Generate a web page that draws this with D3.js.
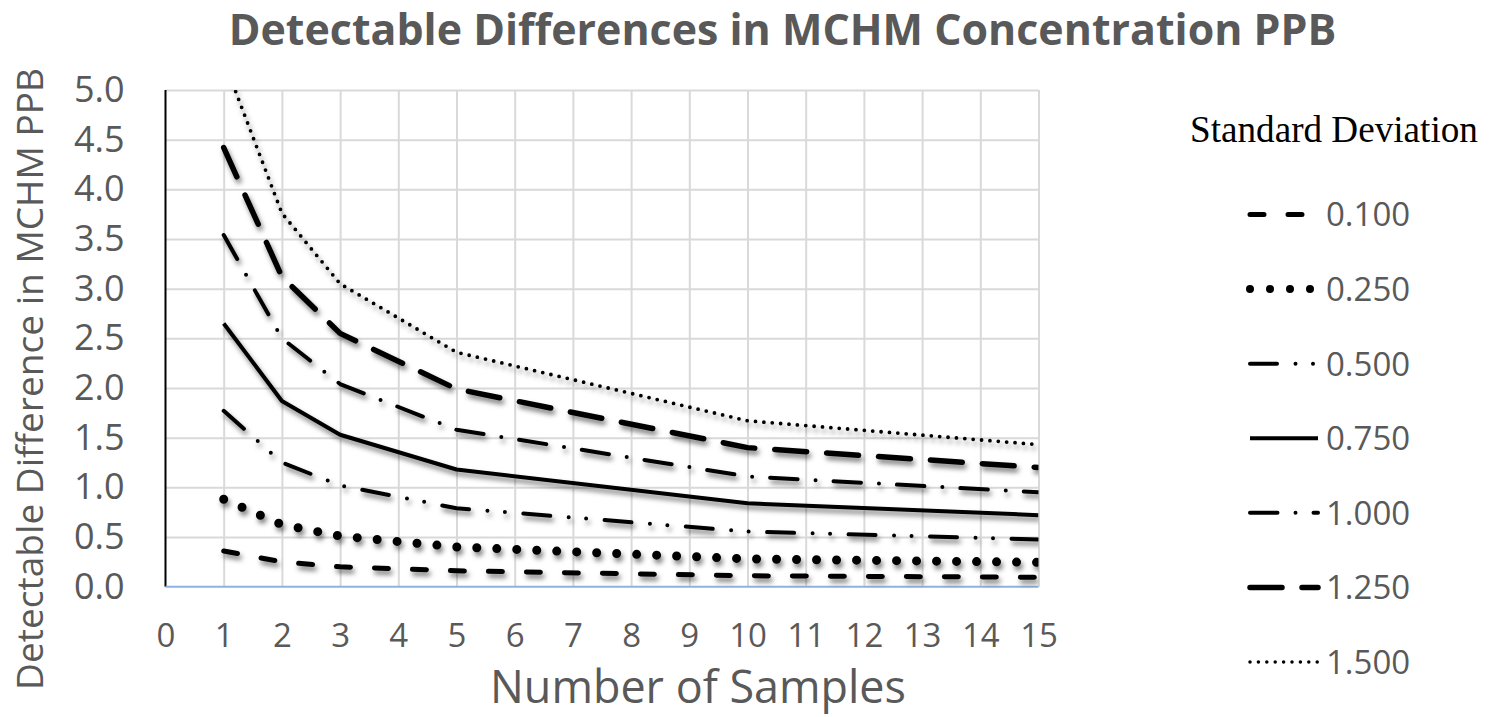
<!DOCTYPE html>
<html><head><meta charset="utf-8">
<script src="https://cdn.jsdelivr.net/npm/d3@7"></script>
<style>body{margin:0;background:#fff}svg{display:block}</style>
</head><body>
<svg id="chart" width="1493" height="717"></svg>
<script>
// ---- data ----
const samples = [1, 2, 3, 5, 10, 15];
const sd010 = [0.36, 0.25, 0.20, 0.16, 0.11, 0.095];
const sd025 = [0.88, 0.625, 0.51, 0.40, 0.28, 0.245];
const sd050 = [1.77, 1.25, 1.02, 0.79, 0.555, 0.475];
const sd075 = [2.65, 1.87, 1.53, 1.18, 0.84, 0.72];
const sd100 = [3.54, 2.50, 2.04, 1.58, 1.11, 0.95];
const sd125 = [4.42, 3.12, 2.55, 1.99, 1.40, 1.20];
const sd150 = [5.30, 3.76, 3.05, 2.36, 1.67, 1.43];
const seriesNames = ["0.100", "0.250", "0.500", "0.750", "1.000", "1.250", "1.500"];
const seriesValues = [sd010, sd025, sd050, sd075, sd100, sd125, sd150];
const xTicks = d3.range(0, 16);
const yTicks = [0, 0.5, 1, 1.5, 2, 2.5, 3, 3.5, 4, 4.5, 5];
const titleText = "Detectable Differences in MCHM Concentration PPB";
const xTitle = "Number of Samples";
const yTitle = "Detectable Difference in MCHM PPB";
const legendTitle = "Standard Deviation";

(function () {
// ---- styles ----
const styles = [
  {w: 5,   lw: 5,   dash: "14 24"},
  {w: 9,   lw: 8,   dash: "0 20"},
  {w: 4,   lw: 4,   dash: "27 18.5 0 17.5 0 18.5"},
  {w: 4,   lw: 4,   dash: null},
  {w: 4,   lw: 4,   dash: "27.5 18 0 18"},
  {w: 5.5, lw: 5.5, dash: "32 20"},
  {w: 3.8, lw: 3.5, dash: "0 8.4"}
];
const gray = "#595959";
const font = "'Open Sans', sans-serif";

const svg = d3.select("#chart");
const pL = 165.5, pR = 1038.5, pT = 90, pB = 586.7;
const x = d3.scaleLinear().domain([0, 15]).range([pL, pR]);
const y = d3.scaleLinear().domain([0, 5]).range([pB, pT]);

const defs = svg.append("defs");
defs.append("clipPath").attr("id", "plotclip").append("rect")
  .attr("x", pL).attr("y", pT).attr("width", pR - pL).attr("height", pB - pT + 12);
const f = defs.append("filter").attr("id", "shadow").attr("filterUnits", "userSpaceOnUse")
  .attr("x", 0).attr("y", 0).attr("width", 1493).attr("height", 717);
f.append("feDropShadow").attr("dx", 2).attr("dy", 4).attr("stdDeviation", 2.6)
  .attr("flood-color", "#000").attr("flood-opacity", 0.5);

function fit(sel, target) {
  const w = sel.node().getComputedTextLength();
  const fs = parseFloat(sel.attr("font-size"));
  sel.attr("font-size", fs * target / w);
}

// ---- grid ----
const gx = svg.append("g").attr("transform", `translate(0,${pB})`)
  .call(d3.axisBottom(x).tickValues(xTicks.filter(d => d > 0)).tickSize(-(pB - pT)).tickFormat(""));
gx.select(".domain").remove();
gx.selectAll("line").attr("stroke", "#d9d9d9").attr("stroke-width", 2);

const gy = svg.append("g").attr("transform", `translate(${pL},0)`)
  .call(d3.axisLeft(y).tickValues(yTicks.filter(d => d > 0)).tickSize(-(pR - pL)).tickFormat(""));
gy.select(".domain").remove();
gy.selectAll("line").attr("stroke", "#d9d9d9").attr("stroke-width", 2);

// axis lines
svg.append("line").attr("x1", pL).attr("x2", pL).attr("y1", pT).attr("y2", pB)
  .attr("stroke", "#000").attr("stroke-width", 2);
svg.append("line").attr("x1", pL).attr("x2", pR).attr("y1", pB).attr("y2", pB)
  .attr("stroke", "#8db3e2").attr("stroke-width", 2);

// ---- tick labels ----
const ax = svg.append("g").attr("transform", `translate(0,${pB})`)
  .call(d3.axisBottom(x).tickValues(xTicks).tickSize(0).tickPadding(37).tickFormat(d3.format("d")));
ax.select(".domain").remove();
ax.selectAll("text").attr("font-family", font).attr("font-size", 33).attr("fill", gray);

const ay = svg.append("g").attr("transform", `translate(${pL},0)`)
  .call(d3.axisLeft(y).tickValues(yTicks).tickSize(0).tickPadding(41).tickFormat(d3.format(".1f")));
ay.select(".domain").remove();
ay.selectAll("text").attr("font-family", font).attr("font-size", 36).attr("fill", gray);

// ---- lines ----
const line = d3.line().x(d => x(d[0])).y(d => y(d[1]));
const plot = svg.append("g").attr("clip-path", "url(#plotclip)");
seriesValues.forEach((vals, i) => {
  const st = styles[i];
  plot.append("path")
    .datum(samples.map((s, j) => [s, vals[j]]))
    .attr("d", line)
    .attr("fill", "none").attr("stroke", "#000")
    .attr("stroke-width", st.w)
    .attr("stroke-linecap", st.dash ? "round" : "butt")
    .attr("stroke-linejoin", "round")
    .attr("stroke-dasharray", st.dash)
    .attr("filter", "url(#shadow)");
});

// ---- titles ----
const t = svg.append("text").attr("x", 782.5).attr("y", 45).attr("text-anchor", "middle")
  .attr("font-family", font).attr("font-weight", "bold").attr("font-size", 40).attr("fill", gray).text(titleText);
fit(t, 1108);

const xt = svg.append("text").attr("x", 698).attr("y", 703).attr("text-anchor", "middle")
  .attr("font-family", font).attr("font-size", 40).attr("fill", gray).text(xTitle);
fit(xt, 416);

const yt = svg.append("text").attr("transform", "translate(43,379) rotate(-90)").attr("text-anchor", "middle")
  .attr("font-family", font).attr("font-size", 36).attr("fill", gray).text(yTitle);
fit(yt, 622);

// ---- legend ----
const lt = svg.append("text").attr("x", 1190).attr("y", 142)
  .attr("font-family", "'Liberation Serif', 'Times New Roman', serif").attr("font-size", 30).attr("fill", "#000").text(legendTitle);
fit(lt, 288);

const legendY = d3.scalePoint().domain(seriesNames).range([214.5, 662]);
const lg = svg.append("g");
seriesNames.forEach((name, i) => {
  const st = styles[i];
  const yy = legendY(name);
  lg.append("line").attr("x1", 1250).attr("x2", 1318).attr("y1", yy).attr("y2", yy)
    .attr("stroke", "#000").attr("stroke-width", st.lw)
    .attr("stroke-linecap", st.dash ? "round" : "butt")
    .attr("stroke-dasharray", st.dash);
  lg.append("text").attr("x", 1326).attr("y", yy).attr("dy", "0.36em")
    .attr("font-family", font).attr("font-size", 33).attr("fill", gray).text(name);
});
})();
</script>
</body></html>
